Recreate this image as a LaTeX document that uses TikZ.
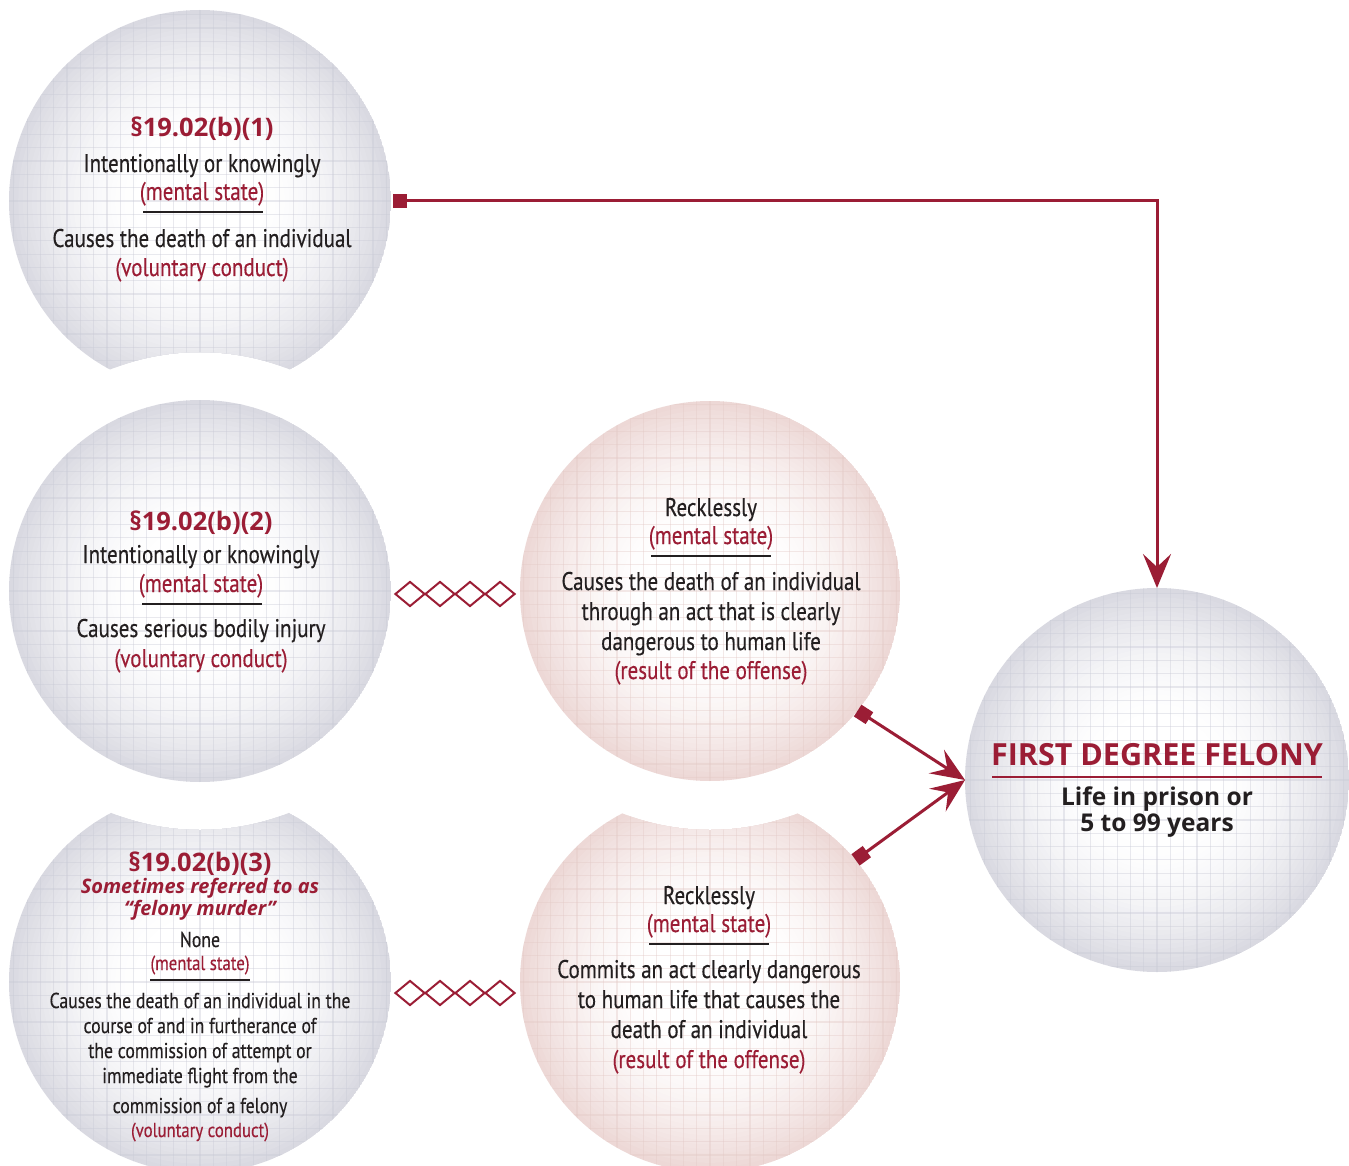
\documentclass[tikz,border=0pt]{standalone}
\usepackage{fontspec}
\setmainfont{PT Sans}
\newfontfamily\condf[FakeStretch=0.825,FakeBold=0.3]{PT Sans}
\newfontfamily\headf{Open Sans}
\usetikzlibrary{arrows.meta,shapes.geometric,calc}
\definecolor{dred}{HTML}{9B1D35}
\definecolor{ink}{HTML}{231F20}
\definecolor{edgegray}{HTML}{D9D9E1}
\definecolor{edgepink}{HTML}{EDD8D6}
\definecolor{gridgray}{HTML}{C9CAD6}
\definecolor{gridpink}{HTML}{E3C9C6}
\newcommand\drawball[5]{%
  \foreach \i in {0,...,29}{%
    \pgfmathsetmacro\rr{#3*(1-0.7*\i/29)}%
    \pgfmathsetmacro\pp{100*(1-\i/29)^1.8}%
    \fill[#4!\pp!white] (#1,#2) circle (\rr pt);
  }%
  \foreach \g in {-15,...,15}{%
    \draw[#5, line width=1.2pt, opacity=0.4] (#1+\g*13.3,#2-#3) -- (#1+\g*13.3,#2+#3);
    \draw[#5, line width=1.2pt, opacity=0.4] (#1-#3,#2+\g*13.3) -- (#1+#3,#2+\g*13.3);
  }%
}
\begin{document}
\begin{tikzpicture}[x=1pt,y=-1pt,
  ballnode/.style={circle, inner sep=0, outer sep=0, minimum size=#1},
  bodyt/.style={font=\condf\fontsize{25.5}{28}\selectfont, text=ink, anchor=base, inner sep=0},
  redt/.style={bodyt, text=dred},
  smallt/.style={font=\condf\fontsize{21.5}{25}\selectfont, text=ink, anchor=base, inner sep=0},
  smallred/.style={font=\condf\fontsize{20.3}{24}\selectfont, text=dred, anchor=base, inner sep=0},
  hdt/.style={font=\headf\bfseries\fontsize{25.5}{28}\selectfont, text=dred, anchor=base, inner sep=0},
  subhd/.style={font=\headf\bfseries\itshape\fontsize{20}{24}\selectfont, text=dred, anchor=base, inner sep=0},
  bigt/.style={font=\headf\bfseries\fontsize{30.5}{33}\selectfont, text=dred, anchor=base, inner sep=0},
  blackb/.style={font=\headf\bfseries\fontsize{24.5}{27}\selectfont, text=ink, anchor=base, inner sep=0},
  rulel/.style={draw=ink, line width=1.3pt},
  diam/.style={diamond, draw=dred, line width=2pt, fill=white, minimum width=30pt, minimum height=25pt, inner sep=0},
  conn/.style={draw=dred, line width=3pt, arrows={Square[length=14pt,width=14pt]-Stealth[length=34pt,width=28pt,inset=13pt]}}
]
\useasboundingbox (0,0) rectangle (1349,1166);
\fill[white] (0,0) rectangle (1349,1166);

% balls
\begin{scope}
  \clip (200,201) circle (191pt);
  \begin{scope}[even odd rule]
  \clip (200,591) circle (239pt) (-50,-50) rectangle (1400,1250);
  \drawball{200}{201}{191}{edgegray}{gridgray}
  \end{scope}
\end{scope}
\begin{scope}
  \clip (200,591) circle (191pt);
  \drawball{200}{591}{191}{edgegray}{gridgray}
\end{scope}
\begin{scope}
  \clip (200,982) circle (191pt);
  \begin{scope}[even odd rule]
  \clip (200,591) circle (239pt) (-50,-50) rectangle (1400,1250);
  \drawball{200}{982}{191}{edgegray}{gridgray}
  \end{scope}
\end{scope}
\begin{scope}
  \clip (710,591) circle (190pt);
  \drawball{710}{591}{190}{edgepink}{gridpink}
\end{scope}
\begin{scope}
  \clip (710,982) circle (190pt);
  \begin{scope}[even odd rule]
  \clip (710,591) circle (239pt) (-50,-50) rectangle (1400,1250);
  \drawball{710}{982}{190}{edgepink}{gridpink}
  \end{scope}
\end{scope}
\begin{scope}
  \clip (1157,780) circle (192pt);
  \drawball{1157}{780}{192}{edgegray}{gridgray}
\end{scope}

\node[ballnode=382pt] (c1) at (200,201) {};
\node[ballnode=382pt] (c2) at (200,591) {};
\node[ballnode=382pt] (c3) at (200,982) {};
\node[ballnode=380pt] (c4) at (710,591) {};
\node[ballnode=380pt] (c5) at (710,982) {};
\node[ballnode=384pt] (c6) at (1157,780) {};

% circle 1 text
\node[hdt] (t1a) at (202,137) {§19.02(b)(1)};
\node[bodyt] (t1b) at (202,172) {Intentionally or knowingly};
\node[redt] (t1c) at (202,200) {(mental state)};
\draw[rulel] (143,212) -- (263,212);
\node[bodyt] (t1d) at (202,247) {Causes the death of an individual};
\node[redt] (t1e) at (202,276) {(voluntary conduct)};

% circle 2 text
\node[hdt] (t2a) at (201,530) {§19.02(b)(2)};
\node[bodyt] (t2b) at (201,563) {Intentionally or knowingly};
\node[redt] (t2c) at (201,592) {(mental state)};
\draw[rulel] (142,604) -- (262,604);
\node[bodyt] (t2d) at (201,637) {Causes serious bodily injury};
\node[redt] (t2e) at (201,667) {(voluntary conduct)};

% circle 3 text
\node[hdt] (t3a) at (200,871) {§19.02(b)(3)};
\node[subhd] (t3b) at (200,893) {Sometimes referred to as};
\node[subhd] (t3c) at (200,915) {“felony murder”};
\node[smallt] (t3d) at (200,947) {None};
\node[smallred] (t3e) at (200,970) {(mental state)};
\draw[rulel] (150,980) -- (250,980);
\node[smallt] (t3f) at (200,1008) {Causes the death of an individual in the};
\node[smallt] (t3g) at (200,1033) {course of and in furtherance of};
\node[smallt] (t3h) at (200,1058) {the commission of attempt or};
\node[smallt] (t3i) at (200,1083) {immediate flight from the};
\node[smallt] (t3j) at (200,1113) {commission of a felony};
\node[smallred] (t3k) at (200,1137) {(voluntary conduct)};

% circle 4 text
\node[bodyt] (t4a) at (711,516) {Recklessly};
\node[redt] (t4b) at (711,544) {(mental state)};
\draw[rulel] (651,556) -- (771,556);
\node[bodyt] (t4c) at (711,590) {Causes the death of an individual};
\node[bodyt] (t4d) at (711,620) {through an act that is clearly};
\node[bodyt] (t4e) at (711,650) {dangerous to human life};
\node[redt] (t4f) at (711,679) {(result of the offense)};

% circle 5 text
\node[bodyt] (t5a) at (709,904) {Recklessly};
\node[redt] (t5b) at (709,932) {(mental state)};
\draw[rulel] (649,944) -- (769,944);
\node[bodyt] (t5c) at (709,978) {Commits an act clearly dangerous};
\node[bodyt] (t5d) at (709,1008) {to human life that causes the};
\node[bodyt] (t5e) at (709,1038) {death of an individual};
\node[redt] (t5f) at (709,1068) {(result of the offense)};

% circle 6 text
\node[bigt] (t6a) at (1157,765) {FIRST DEGREE FELONY};
\draw[draw=dred, line width=1.3pt] (992,777) -- (1322,777);
\node[blackb] (t6b) at (1157,805) {Life in prison or};
\node[blackb] (t6c) at (1157,831) {5 to 99 years};

% diamond chains
\foreach \k/\xx in {1/410,2/440,3/470,4/500}{
  \node[diam] (da\k) at (\xx,594) {};
  \node[diam] (db\k) at (\xx,993) {};
}

% connectors
\draw[conn] ($(c1.east)+(2,0)$) -| (c6.north);
\draw[conn] (c4.-39) -- (c6.west);
\draw[conn] (c5.40) -- (c6.west);
\end{tikzpicture}
\end{document}
